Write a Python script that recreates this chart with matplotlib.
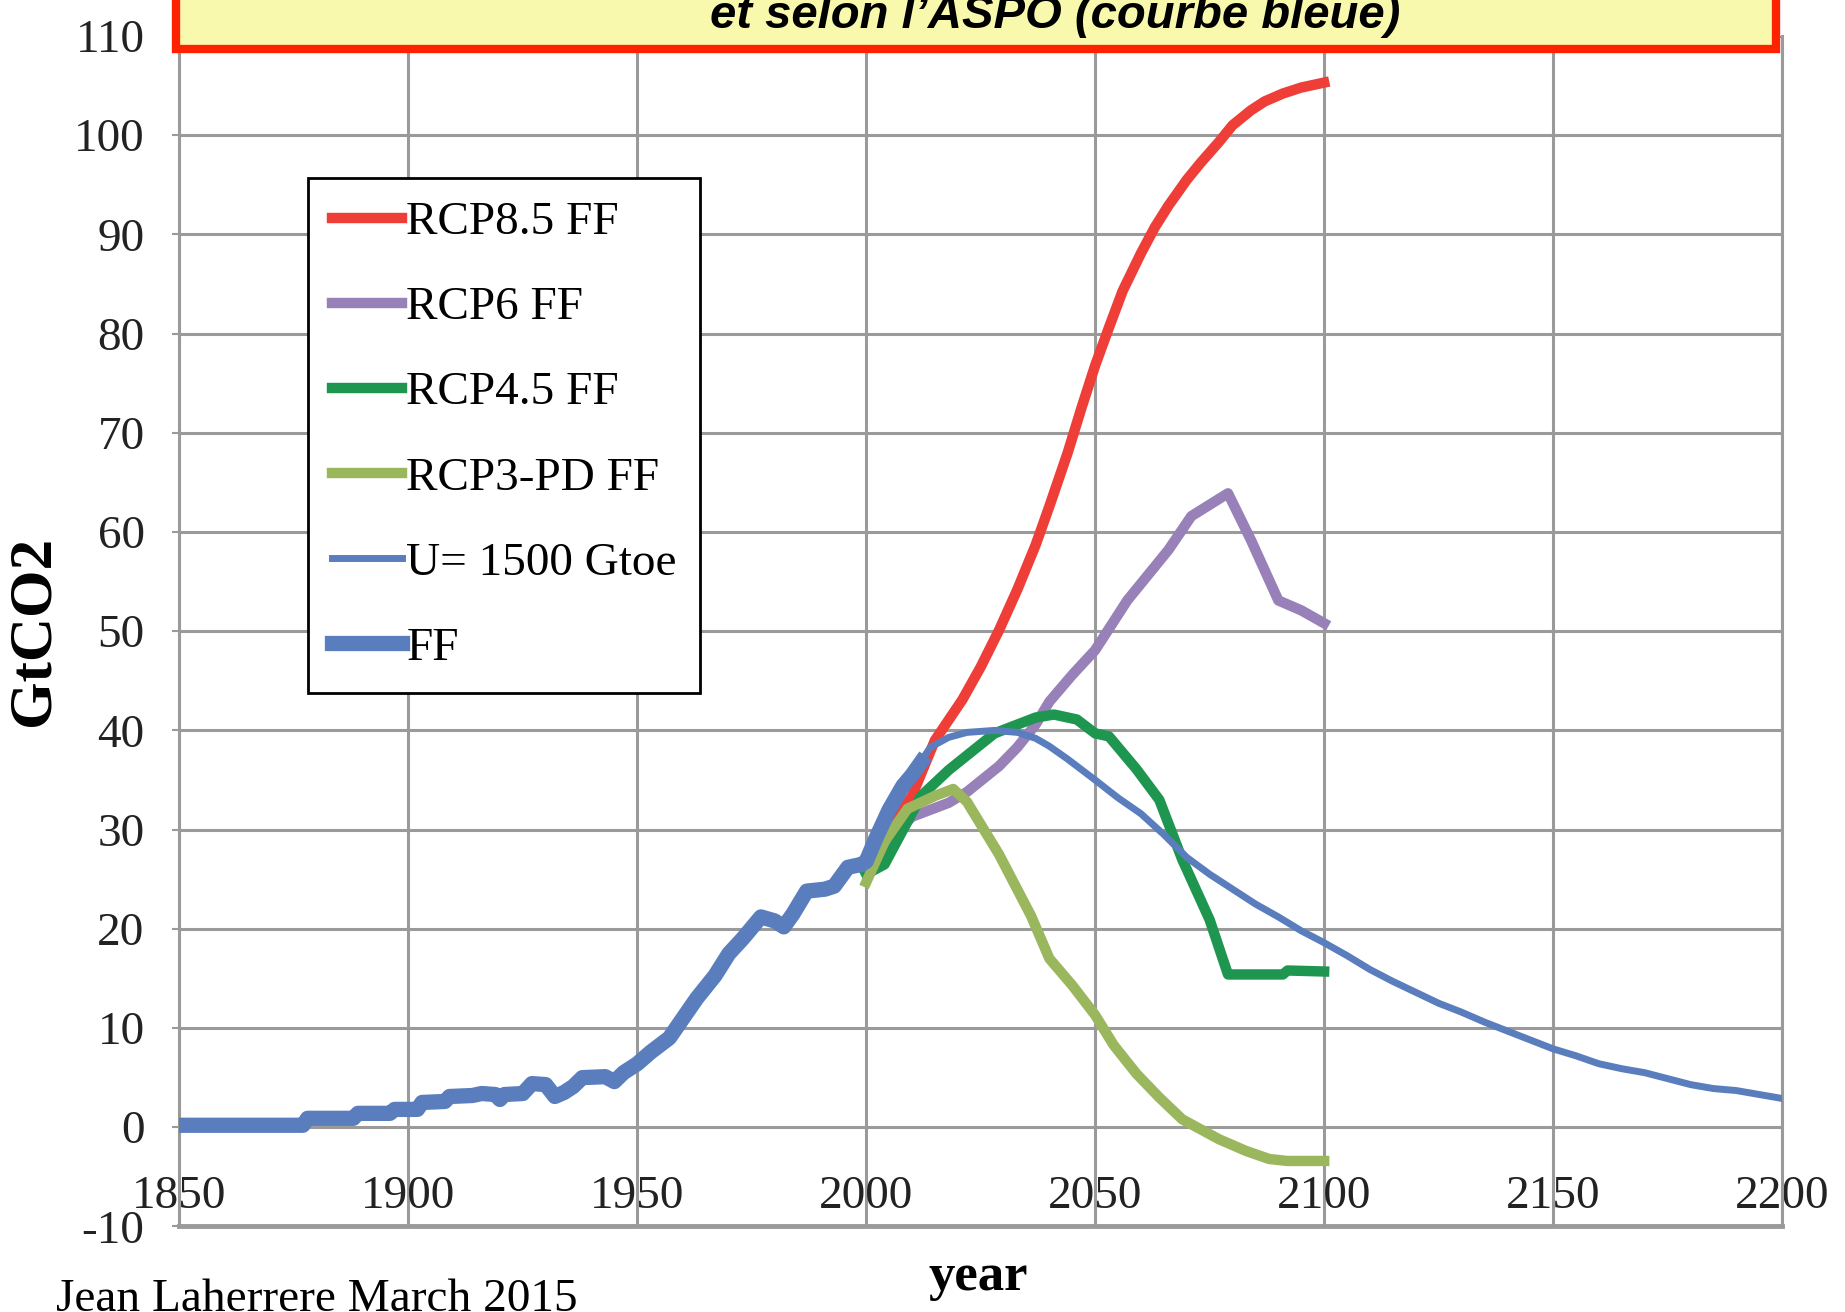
import matplotlib.pyplot as plt
from matplotlib.patches import Rectangle

plt.rcParams['axes.unicode_minus'] = False

# historical fossil fuel emissions (thick blue)
ff_years = [1850, 1877, 1878, 1888, 1889, 1896, 1897, 1902, 1903, 1908, 1909, 1914, 1916,
            1919, 1920, 1921, 1925, 1927, 1930, 1932, 1934, 1936, 1938, 1943, 1945, 1947,
            1950, 1953, 1955, 1957, 1960, 1963, 1967, 1970, 1973, 1977, 1980, 1982, 1984,
            1987, 1991, 1993, 1996, 1999, 2000, 2002, 2005, 2008, 2010, 2012]
ff_vals = [0.2, 0.2, 0.9, 0.9, 1.4, 1.4, 1.8, 1.8, 2.5, 2.6, 3.1, 3.2, 3.4,
           3.3, 2.8, 3.3, 3.4, 4.4, 4.3, 3.1, 3.5, 4.1, 5.0, 5.1, 4.6, 5.5,
           6.4, 7.6, 8.3, 9.0, 11.0, 13.0, 15.3, 17.5, 19.0, 21.2, 20.8, 20.2, 21.5,
           23.8, 24.0, 24.3, 26.2, 26.5, 26.8, 29.0, 32.0, 34.4, 35.5, 36.8]

# ASPO forecast U = 1500 Gtoe (thin blue)
u_years = [2010, 2014, 2018, 2022, 2028, 2033, 2037, 2040, 2044, 2050, 2055, 2060, 2065,
           2070, 2075, 2080, 2085, 2090, 2095, 2100, 2105, 2110, 2115, 2120, 2125, 2130,
           2135, 2140, 2145, 2150, 2155, 2160, 2165, 2170, 2175, 2180, 2185, 2190, 2195, 2200]
u_vals = [35.5, 38.3, 39.3, 39.8, 40.0, 39.8, 39.2, 38.4, 37.1, 35.0, 33.2, 31.6, 29.5,
          27.2, 25.5, 24.0, 22.5, 21.2, 19.8, 18.6, 17.3, 15.9, 14.7, 13.6, 12.5, 11.6,
          10.6, 9.7, 8.8, 7.9, 7.2, 6.4, 5.9, 5.5, 4.9, 4.3, 3.9, 3.7, 3.3, 2.9]

# IPCC RCP scenarios
rcp85_years = [2000, 2005, 2010, 2015, 2021, 2025, 2029, 2033, 2037, 2040, 2044, 2047,
               2050, 2053, 2056, 2060, 2063, 2066, 2070, 2073, 2077, 2080, 2084, 2087,
               2091, 2095, 2100]
rcp85_vals = [26.5, 30.0, 33.4, 39.0, 43.1, 46.4, 50.1, 54.2, 58.7, 62.6, 68.0, 72.5,
              76.8, 80.6, 84.3, 88.1, 90.7, 92.9, 95.5, 97.2, 99.3, 101.0, 102.5, 103.4,
              104.2, 104.8, 105.3]

rcp6_years = [2000, 2005, 2010, 2018, 2022, 2029, 2033, 2037, 2040, 2045, 2050, 2057,
              2066, 2071, 2079, 2084, 2090, 2095, 2100]
rcp6_vals = [26.0, 29.0, 31.3, 32.7, 33.8, 36.4, 38.3, 40.6, 42.9, 45.6, 48.1, 53.1,
             58.2, 61.6, 63.9, 59.2, 53.1, 52.1, 50.8]

rcp45_years = [2000, 2004, 2012, 2018, 2028, 2037, 2041, 2046, 2050, 2053, 2059, 2064,
               2069, 2075, 2079, 2091, 2092, 2100]
rcp45_vals = [25.5, 26.5, 33.4, 36.0, 39.7, 41.3, 41.6, 41.1, 39.7, 39.4, 36.1, 33.0,
              27.0, 20.9, 15.4, 15.4, 15.8, 15.7]

rcp3_years = [2000, 2004, 2009, 2015, 2019, 2022, 2029, 2036, 2040, 2045, 2050, 2054,
              2059, 2064, 2069, 2077, 2083, 2088, 2092, 2100]
rcp3_vals = [24.7, 28.8, 32.1, 33.4, 34.1, 32.8, 27.5, 21.3, 17.0, 14.3, 11.3, 8.3,
             5.4, 3.0, 0.8, -1.2, -2.4, -3.2, -3.4, -3.4]

x_ticks = list(range(1850, 2201, 50))
y_ticks = list(range(-10, 111, 10))

serif = 'Liberation Serif'
grid_col = '#9A9A9A'

fig = plt.figure(figsize=(18.45, 13.12), dpi=100)
ax = fig.add_axes([0.0972, 0.0652, 0.8687, 0.9074])

ax.plot(rcp85_years, rcp85_vals, color='#EE3E37', lw=7.5, label='RCP8.5 FF', zorder=3)
ax.plot(rcp6_years, rcp6_vals, color='#9880B9', lw=7.5, label='RCP6 FF', zorder=3)
ax.plot(rcp45_years, rcp45_vals, color='#1E9650', lw=7.5, label='RCP4.5 FF', zorder=3)
ax.plot(rcp3_years, rcp3_vals, color='#9BB75E', lw=7.5, label='RCP3-PD FF', zorder=3)
ax.plot(u_years, u_vals, color='#5A7DBE', lw=5, label='U= 1500 Gtoe', zorder=3)
ax.plot(ff_years, ff_vals, color='#5A7DBE', lw=11, label='FF', zorder=3)

ax.set_xlim(1850, 2200)
ax.set_ylim(-10, 110)
ax.set_xticks(x_ticks)
ax.set_yticks(y_ticks)
ax.grid(True, color=grid_col, lw=2.2)
ax.set_axisbelow(True)
for side in ['left', 'right', 'bottom']:
    ax.spines[side].set_color(grid_col)
    ax.spines[side].set_linewidth(2.2)
ax.spines['bottom'].set_linewidth(3.5)
ax.spines['top'].set_visible(False)

ax.tick_params(axis='x', length=0, pad=-37, labelsize=34)
ax.tick_params(axis='y', length=5, width=1.5, color=grid_col, pad=20, labelsize=34)
for lab in ax.get_xticklabels() + ax.get_yticklabels():
    lab.set_family(serif)
    lab.set_color('#222222')

ax.set_ylabel('GtCO2', family=serif, fontsize=44, fontweight='bold', va='center')
ax.yaxis.set_label_coords(-0.0913, 0.5)
fig.text(0.53, 1 - 1277 / 1312, 'year', family=serif, fontsize=38, fontweight='bold',
         ha='center', va='center')
fig.text(0.0304, 0.001, 'Jean Laherrere March 2015', family=serif, fontsize=34,
         ha='left', va='baseline')

leg = ax.legend(loc='upper left', bbox_to_anchor=(0.0803, 0.881), borderaxespad=0,
                prop={'family': serif, 'size': 34}, handlelength=1.5,
                handletextpad=0.08, labelspacing=0.89, borderpad=0.5,
                fancybox=False, framealpha=1, edgecolor='black')
leg.get_frame().set_linewidth(2)

# yellow banner at the top, cut by the image edge
banner = Rectangle((176 / 1845, 1 - 49 / 1312), 1600 / 1845, 0.1,
                   transform=fig.transFigure, facecolor='#F9F9AE', edgecolor='#FF2200',
                   lw=6, zorder=5, clip_on=False)
fig.add_artist(banner)
fig.text(0.572, 1 - 28 / 1312, 'et selon l\u2019ASPO (courbe bleue)', family='Liberation Sans',
         fontsize=34, fontweight='bold', fontstyle='italic', ha='center', va='baseline',
         zorder=6)

fig.savefig('out.png', dpi=100)
